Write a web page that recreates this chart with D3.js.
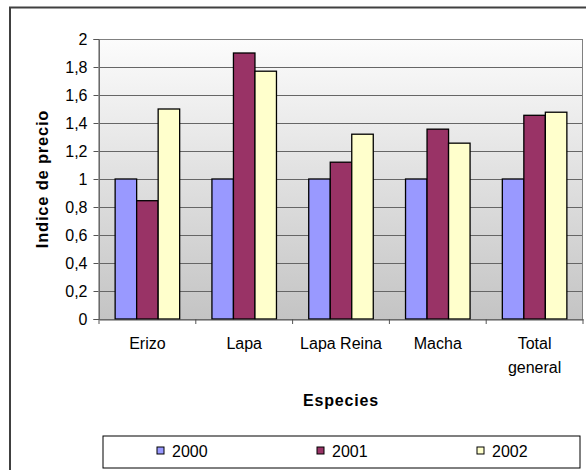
<!DOCTYPE html>
<html>
<head>
<meta charset="utf-8">
<script src="https://cdn.jsdelivr.net/npm/d3@7"></script>
<style>
  body { margin: 0; background: #fff; }
  text { font-family: "Liberation Sans", Arial, sans-serif; fill: #000; }
</style>
</head>
<body>
<script>
// chart data
const categories = ["Erizo", "Lapa", "Lapa Reina", "Macha", "Total general"];
const years = ["2000", "2001", "2002"];
const values2000 = [1, 1, 1, 1, 1];
const values2001 = [0.845, 1.9, 1.12, 1.356, 1.455];
const values2002 = [1.5, 1.77, 1.32, 1.256, 1.477];
const yTicks = [0, 0.2, 0.4, 0.6, 0.8, 1, 1.2, 1.4, 1.6, 1.8, 2];
const colors = ["#9999ff", "#993366", "#ffffcc"];

const W = 586, H = 470;
const plot = {left: 99, right: 583, top: 39, bottom: 319};
const FONT = "'Liberation Sans', Arial, sans-serif";

const series = [values2000, values2001, values2002];
const rows = categories.map(function(c, i) {
  return {cat: c, vals: series.map(function(s, k) { return {year: years[k], v: s[i], k: k}; })};
});

const svg = d3.select(document.body).append("svg")
  .attr("width", W).attr("height", H)
  .attr("font-family", FONT);

// background gradient of the plot area
const grad = svg.append("defs").append("linearGradient")
  .attr("id", "bg").attr("x1", 0).attr("y1", 0).attr("x2", 0).attr("y2", 1);
grad.append("stop").attr("offset", "0%").attr("stop-color", "#fcfcfc");
grad.append("stop").attr("offset", "100%").attr("stop-color", "#c4c4c4");

// outer chart frame (runs off the picture on the right and bottom)
svg.append("rect")
  .attr("x", 10).attr("y", 7.5).attr("width", 600).attr("height", 500)
  .attr("fill", "none").attr("stroke", "#404040").attr("stroke-width", 2);

const x = d3.scaleBand().domain(categories).range([plot.left, plot.right]);
const xs = d3.scaleBand().domain(years)
  .range([x.bandwidth() / 6, x.bandwidth() * 5 / 6]);
const y = d3.scaleLinear().domain([0, 2]).range([plot.bottom, plot.top]);

svg.append("rect")
  .attr("x", plot.left).attr("y", plot.top)
  .attr("width", plot.right - plot.left).attr("height", plot.bottom - plot.top)
  .attr("fill", "url(#bg)");

// gridlines
svg.append("g").selectAll("line")
  .data(yTicks.filter(function(t) { return t > 0; }))
  .enter().append("line")
  .attr("x1", plot.left).attr("x2", plot.right)
  .attr("y1", function(d) { return Math.round(y(d)) + 0.5; })
  .attr("y2", function(d) { return Math.round(y(d)) + 0.5; })
  .attr("stroke", "#666").attr("stroke-width", 1);

svg.append("rect")
  .attr("x", plot.left + 0.5).attr("y", plot.top + 0.5)
  .attr("width", plot.right - plot.left - 1).attr("height", plot.bottom - plot.top)
  .attr("fill", "none").attr("stroke", "#808080").attr("stroke-width", 1);

// bars
const groups = svg.append("g").selectAll("g")
  .data(rows).enter().append("g")
  .attr("transform", function(d) { return "translate(" + x(d.cat) + ",0)"; });

groups.selectAll("rect")
  .data(function(d) { return d.vals; })
  .enter().append("rect")
  .attr("x", function(d) { return xs(d.year); })
  .attr("y", function(d) { return y(d.v); })
  .attr("width", xs.bandwidth())
  .attr("height", function(d) { return y(0) - y(d.v); })
  .attr("fill", function(d) { return colors[d.k]; })
  .attr("stroke", "#000").attr("stroke-width", 1.3);

// y axis
const yAxis = svg.append("g")
  .attr("transform", "translate(" + (plot.left - 0.5) + ",0)")
  .call(d3.axisLeft(y).tickValues(yTicks).tickSize(5).tickPadding(6)
    .tickFormat(function(d) { return String(d3.format(".1~f")(d)).replace(".", ","); }));
yAxis.attr("font-family", FONT);
yAxis.select(".domain").attr("stroke", "#555");
yAxis.selectAll(".tick line").attr("stroke", "#555");
yAxis.selectAll("text").attr("font-size", "16px").attr("fill", "#000");

// x axis
const xAxis = svg.append("g")
  .attr("transform", "translate(0," + (plot.bottom + 0.5) + ")")
  .call(d3.axisBottom(x).tickSize(0).tickFormat(""));
xAxis.select(".domain").attr("stroke", "#555");
svg.append("g").selectAll("line")
  .data(categories.concat([null]))
  .enter().append("line")
  .attr("x1", function(d, i) { return plot.left + i * x.step(); })
  .attr("x2", function(d, i) { return plot.left + i * x.step(); })
  .attr("y1", plot.bottom).attr("y2", plot.bottom + 5)
  .attr("stroke", "#555");

const catLabels = svg.append("g").selectAll("text")
  .data(categories).enter().append("text")
  .attr("text-anchor", "middle")
  .attr("font-size", "16px")
  .attr("transform", function(d) { return "translate(" + (x(d) + x.bandwidth() / 2) + ",349)"; });
catLabels.each(function(d) {
  const words = d === "Total general" ? ["Total", "general"] : [d];
  const t = d3.select(this);
  words.forEach(function(w, i) {
    t.append("tspan").attr("x", 0).attr("dy", i === 0 ? 0 : 24).text(w);
  });
});

// axis titles
svg.append("text")
  .attr("transform", "translate(48," + ((plot.top + plot.bottom) / 2) + ") rotate(-90)")
  .attr("text-anchor", "middle")
  .attr("font-size", "16.5px").attr("font-weight", "bold")
  .attr("letter-spacing", "0.8px")
  .text("Indice de precio");

svg.append("text")
  .attr("x", (plot.left + plot.right) / 2).attr("y", 406)
  .attr("text-anchor", "middle")
  .attr("font-size", "16px").attr("font-weight", "bold")
  .attr("letter-spacing", "0.8px")
  .text("Especies");

// legend
const legend = svg.append("g");
legend.append("rect")
  .attr("x", 103).attr("y", 436).attr("width", 477).attr("height", 32)
  .attr("fill", "#fff").attr("stroke", "#000").attr("stroke-width", 1);

const items = legend.selectAll("g.item")
  .data(years).enter().append("g")
  .attr("class", "item")
  .attr("transform", function(d, i) { return "translate(" + (157 + i * 160) + ",447)"; });
items.append("rect")
  .attr("width", 7).attr("height", 7)
  .attr("fill", function(d, i) { return colors[i]; })
  .attr("stroke", "#000").attr("stroke-width", 1);
items.append("text")
  .attr("x", 15).attr("y", 9.5)
  .attr("font-size", "16px")
  .text(function(d) { return d; });
</script>
</body>
</html>
